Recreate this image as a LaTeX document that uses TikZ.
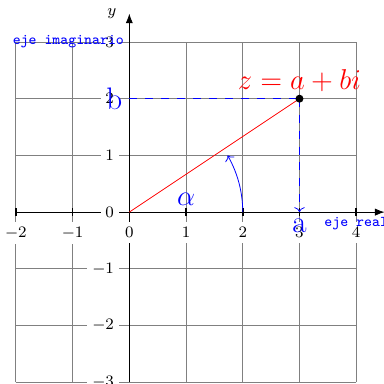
\documentclass[tikz,border=0pt]{standalone}
\usepackage{amsmath,amssymb}
\usepackage{xcolor}
\usepackage{tikz}
\usetikzlibrary{arrows.meta,positioning,calc}
\tikzset{
  cpxgrid/.style={gray,line width=0.4pt},
  cpxaxis/.style={-{Latex},black},
  cpxtick/.style={fill=white,inner sep=2.5pt,font=\fontsize{8}{9.5}\selectfont},
  cpxbig/.style={blue,font=\fontsize{15.6}{18}\selectfont},
  cpxname/.style={blue,inner sep=2.5pt,font=\fontsize{7.5}{9}\selectfont\ttfamily},
  cpxproj/.style={blue,dash pattern=on 4pt off 4pt},
}

\begin{document}
\begin{tikzpicture}
\useasboundingbox (-2.28,-3.02) rectangle (4.49,3.74);
\draw[cpxgrid] (-2,-3) grid (4,3);
\coordinate (O) at (0,0);
\coordinate (z) at (3,2);
\coordinate (zx) at (3,0);
\coordinate (zy) at (0,2);
\draw[cpxaxis] (-2,0) -- (4.5,0);
\draw[cpxaxis] (0,-3) -- (0,3.5) coordinate (ytop);
\node[left=3pt,font=\fontsize{8}{9.5}\selectfont] (ylab) at (ytop) {$y$};
% ticks and numbers
\foreach \x in {-2,...,4} {
  \draw[thick] (\x,-2pt) -- (\x,2pt);
  \node[cpxtick,below=5pt] (xt\x) at (\x,0) {$\x$};
}
\foreach \y in {-3,...,3}
  \node[cpxtick,left=5pt] (yt\y) at (0,\y) {$\y$};
% the number z
\draw[red] (O) -- (z);
\draw[cpxproj] (zy) -- (z);
\draw[cpxproj,->] (z) -- (zx);
\fill (z) circle (2pt);
\draw[blue,->] (2,0) arc (0:30:2);
\node[cpxbig,left] (b) at (zy) {b};
\node[cpxbig,below] (a) at (zx) {a};
\node[cpxbig,above] (alpha) at (1,0) {$\alpha$};
\node[cpxbig,red,above] (zlab) at (z) {$z=a+bi$};
\node[cpxname,left] (imag) at (0,3) {eje imaginario};
\node[cpxname,below] (real) at (4,0) {eje real};
\end{tikzpicture}
\end{document}
